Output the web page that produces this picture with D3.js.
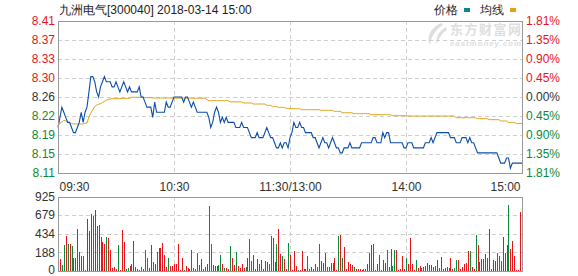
<!DOCTYPE html>
<html><head><meta charset="utf-8">
<script src="https://cdn.jsdelivr.net/npm/d3@7"></script>
<style>body{margin:0;background:#fff}svg{display:block;font-family:"Liberation Sans",Arial,sans-serif}</style>
</head><body>
<svg id="c" width="578" height="276"></svg>
<script>
const title = "九洲电气[300040] 2018-03-14 15:00";
const legendNames = ["价格", "均线"];
const prevClose = 8.26;
const priceSpan = 0.1495;
const priceLabels = ["8.41","8.37","8.33","8.30","8.26","8.22","8.19","8.15","8.11"];
const pctLabels = ["1.81%","1.35%","0.90%","0.45%","0.00%","0.45%","0.90%","1.35%","1.81%"];
const timeTicks = [0, 60, 120, 180, 240];
const timeLabels = ["09:30","10:30","11:30/13:00","14:00","15:00"];
const volLabels = ["925","679","434","188","0"];
const volMax = 925;

const prices = [
8.20,8.22,8.24,8.23,8.22,8.21,8.21,8.20,8.19,8.19,
8.20,8.21,8.23,8.21,8.23,8.24,8.27,8.30,8.30,8.29,
8.27,8.26,8.28,8.29,8.30,8.29,8.29,8.29,8.28,8.28,
8.29,8.28,8.27,8.28,8.29,8.28,8.27,8.28,8.27,8.27,
8.27,8.27,8.28,8.26,8.26,8.25,8.24,8.24,8.24,8.22,
8.25,8.23,8.23,8.23,8.23,8.23,8.25,8.24,8.24,8.25,
8.26,8.26,8.26,8.26,8.26,8.25,8.26,8.26,8.25,8.24,
8.25,8.24,8.23,8.23,8.23,8.23,8.23,8.23,8.22,8.20,
8.21,8.23,8.24,8.23,8.21,8.22,8.21,8.22,8.21,8.21,
8.21,8.21,8.20,8.20,8.20,8.21,8.20,8.20,8.20,8.19,
8.18,8.18,8.18,8.19,8.18,8.18,8.18,8.19,8.20,8.19,
8.18,8.18,8.17,8.16,8.16,8.17,8.16,8.17,8.17,8.16,
8.18,8.19,8.21,8.20,8.20,8.21,8.20,8.20,8.19,8.19,
8.19,8.19,8.18,8.18,8.17,8.16,8.17,8.18,8.17,8.17,
8.16,8.17,8.18,8.17,8.16,8.16,8.15,8.15,8.16,8.16,
8.16,8.17,8.16,8.16,8.16,8.16,8.16,8.17,8.17,8.17,
8.17,8.17,8.17,8.18,8.18,8.17,8.17,8.17,8.19,8.18,
8.19,8.19,8.17,8.17,8.17,8.17,8.17,8.17,8.17,8.16,
8.16,8.17,8.17,8.17,8.16,8.16,8.16,8.16,8.16,8.16,
8.17,8.17,8.17,8.18,8.17,8.18,8.19,8.19,8.19,8.19,
8.19,8.19,8.19,8.18,8.18,8.18,8.17,8.17,8.17,8.18,
8.18,8.18,8.17,8.18,8.17,8.17,8.16,8.15,8.15,8.15,
8.15,8.15,8.15,8.15,8.15,8.15,8.15,8.15,8.14,8.13,
8.13,8.13,8.14,8.14,8.12,8.13,8.13,8.13,8.13,8.13,
8.13];

const avgPrices = [
8.204,8.208,8.211,8.214,8.213,8.211,8.209,8.208,8.207,8.207,
8.207,8.207,8.207,8.207,8.208,8.209,8.221,8.2285,8.235,8.2416,
8.244,8.2456,8.247,8.249,8.2515,8.2534,8.2554,8.256,8.2567,8.2567,
8.2567,8.2567,8.2567,8.2574,8.2574,8.2574,8.2574,8.2574,8.2595,8.2595,
8.2595,8.2595,8.2595,8.2595,8.2595,8.2587,8.2587,8.2587,8.2587,8.258,
8.258,8.258,8.258,8.258,8.258,8.258,8.258,8.258,8.258,8.258,
8.258,8.2577,8.2577,8.2577,8.2577,8.2577,8.2577,8.2577,8.2577,8.2577,
8.2577,8.2577,8.2577,8.2577,8.2577,8.2577,8.2577,8.2548,8.2528,8.2528,
8.2528,8.2528,8.2528,8.2528,8.2528,8.2528,8.2528,8.2528,8.2528,8.2505,
8.2505,8.2505,8.2505,8.2505,8.2505,8.2505,8.2482,8.2482,8.2482,8.2482,
8.2482,8.2462,8.2462,8.2462,8.2462,8.2462,8.2462,8.2462,8.2436,8.2436,
8.2436,8.241,8.241,8.241,8.2397,8.2397,8.2397,8.2397,8.2377,8.2377,
8.237,8.237,8.237,8.237,8.237,8.237,8.235,8.235,8.235,8.235,
8.235,8.235,8.235,8.235,8.235,8.235,8.2338,8.2338,8.2338,8.2338,
8.2338,8.2338,8.2338,8.2318,8.2318,8.2318,8.2318,8.229,8.229,8.229,
8.229,8.229,8.229,8.2272,8.2272,8.2272,8.2272,8.2272,8.2272,8.2272,
8.2272,8.2272,8.2252,8.2252,8.2252,8.2252,8.2252,8.2252,8.2252,8.2252,
8.2252,8.2252,8.2252,8.2233,8.2233,8.2233,8.2233,8.2233,8.2233,8.2233,
8.2226,8.2226,8.2226,8.2226,8.2226,8.2226,8.2226,8.2226,8.2226,8.2226,
8.2226,8.2226,8.2226,8.2226,8.2226,8.2226,8.2226,8.2226,8.2226,8.2226,
8.2226,8.2226,8.2226,8.2226,8.2226,8.2226,8.2193,8.2193,8.2193,8.2193,
8.2193,8.2193,8.2193,8.2193,8.2193,8.2193,8.2193,8.2174,8.2174,8.2174,
8.2174,8.2174,8.2174,8.2154,8.2154,8.2154,8.2154,8.2154,8.2154,8.2128,
8.2128,8.2128,8.2128,8.21,8.21,8.21,8.21,8.208,8.208,8.208,
8.208];

const volumes = [0,
153,70,326,430,339,339,306,165,165,525,
240,190,190,17,648,500,710,686,760,562,
574,425,363,339,425,413,264,41,54,29,
326,17,512,363,29,41,66,91,376,54,
29,17,54,29,264,165,41,326,116,91,
240,289,289,351,202,54,165,66,66,91,
91,339,17,165,17,66,41,29,264,41,
29,227,78,153,29,54,91,809,339,78,
66,66,78,202,91,41,41,29,314,165,
78,240,66,41,91,41,54,165,400,128,
202,29,153,91,140,29,128,116,91,438,
413,116,339,525,215,190,153,29,351,
202,17,252,66,17,17,252,29,29,190,
29,54,29,91,54,339,128,103,227,54,
54,103,103,165,17,438,450,165,301,29,
116,91,78,54,29,29,29,17,29,29,
91,227,326,339,17,91,202,17,140,103,
264,54,277,66,264,264,17,29,190,29,
165,91,413,91,17,140,41,66,41,54,
66,103,78,78,54,66,140,41,178,29,
41,54,41,165,29,41,140,140,29,54,
91,103,252,252,54,29,450,326,116,153,
153,215,165,525,29,140,128,227,190,128,
425,227,326,822,277,376,190,17,8,735];

const volDirs = ("r" +
"rggrgrgrrr" + "rrgrrrrgrg" + "rrrrgrrrrr" + "grrrggrgrr" + "rrgrggrrgr" + "grrrrrgrrr" +
"rrrrgrrggr" + "rgrrrgrggr" + "rrggrgrrgr" + "rgrrrrgrgg" + "rrrrrrrrgg" + "rrgrrgrrg" +
"rrrrgrrrgg" + "rrrgrgrrrg" + "grrrrgrgrr" + "rrrgrrrrrr" + "rrrrrrgrrr" + "grrggrrrrr" +
"grrrrgrrrr" + "rrrrgrrrrr" + "rrgrrggrrr" + "rrrgrrgrrr" + "rrrrrrrggr" + "rrrgrrrrrr").split("");

const RED = "#e8141c", GREEN = "#0b8a3a", DARK = "#333", BLUE = "#0a4ea8", GOLD = "#e2a213";
const L = 58, R = 522, T = 21, B = 173, VT = 196.5, VB = 271;
const svg = d3.select("#c");

const x = d3.scaleLinear().domain([0, 240]).range([L, R]);
const y = d3.scaleLinear().domain([prevClose - priceSpan, prevClose + priceSpan]).range([B, T]);
const yl = d3.scalePoint().domain(d3.range(priceLabels.length)).range([T, B]);
const yv = d3.scaleLinear().domain([0, volMax]).range([VB, VT]);
const yvl = d3.scalePoint().domain(d3.range(volLabels.length)).range([VT, VB]);
const mid = Math.floor(priceLabels.length / 2);
const lblColor = i => i < mid ? RED : (i === mid ? DARK : GREEN);

// watermark
const wm = svg.append("g").attr("fill", "#dedede");
wm.append("path").attr("d", "M441,23 C430,28 426,38 430,45 C431,37 435,30 443,25 Z");
wm.append("path").attr("d", "M446,27 C439,31 435,38 437,44 C439,38 442,33 447,30 Z");
wm.append("text").attr("x", 450).attr("y", 34).attr("font-size", 13).attr("font-weight", "bold")
  .attr("font-family", "Noto Sans CJK SC").attr("textLength", 71).text("东方财富网");
wm.append("text").attr("x", 450).attr("y", 46).attr("font-size", 8).attr("font-weight", "bold")
  .attr("font-style", "italic").attr("textLength", 71).text("eastmoney.com");

// grids
const grid = svg.append("g").attr("stroke", "#cfcfcf").attr("stroke-dasharray", "4,3").attr("shape-rendering", "crispEdges");
grid.selectAll(".hp").data(yl.domain().slice(1, -1)).join("line")
  .attr("x1", L).attr("x2", R).attr("y1", d => Math.round(yl(d)) + 0.5).attr("y2", d => Math.round(yl(d)) + 0.5);
grid.selectAll(".hv").data(yvl.domain().slice(1, -1)).join("line").attr("class", "hv")
  .attr("x1", L).attr("x2", R).attr("y1", d => Math.round(yvl(d)) + 0.5).attr("y2", d => Math.round(yvl(d)) + 0.5);
grid.selectAll(".vt").data(timeTicks.slice(1, -1)).join("line").attr("class", "vt")
  .attr("x1", d => Math.round(x(d)) + 0.5).attr("x2", d => Math.round(x(d)) + 0.5).attr("y1", T).attr("y2", B);
grid.selectAll(".vb").data(timeTicks.slice(1, -1)).join("line").attr("class", "vb")
  .attr("x1", d => Math.round(x(d)) + 0.5).attr("x2", d => Math.round(x(d)) + 0.5).attr("y1", VT).attr("y2", VB);

// volume bars
svg.append("g").attr("shape-rendering", "crispEdges").selectAll("rect").data(volumes).join("rect")
  .attr("x", (d, i) => Math.round(x(i)))
  .attr("width", 1)
  .attr("y", d => yv(d))
  .attr("height", d => VB - yv(d))
  .attr("fill", (d, i) => volDirs[i] === "g" ? GREEN : RED);

// lines
svg.append("path").datum(avgPrices).attr("fill", "none").attr("stroke", GOLD).attr("stroke-width", 1)
  .attr("d", d3.line().x((d, i) => x(i)).y(d => y(d)));
svg.append("path").datum(prices).attr("fill", "none").attr("stroke", BLUE).attr("stroke-width", 1.1)
  .attr("d", d3.line().x((d, i) => x(i)).y(d => y(d)));

// frames
svg.append("g").attr("fill", "none").attr("stroke", "#999").attr("shape-rendering", "crispEdges")
  .selectAll("rect").data([[T, B], [VT, VB]]).join("rect")
  .attr("x", L + 0.5).attr("y", d => Math.round(d[0]) + 0.5).attr("width", R - L).attr("height", d => Math.round(d[1]) - Math.round(d[0]));

// axes
const styleAxis = g => { g.select(".domain").remove(); g.selectAll("text").attr("font-size", 12).attr("font-family", "Liberation Sans, Arial, sans-serif"); };
const ax1 = svg.append("g").attr("transform", `translate(${L},0)`)
  .call(d3.axisLeft(yl).tickSize(0).tickPadding(3).tickFormat(i => priceLabels[i])).call(styleAxis);
ax1.selectAll("text").attr("fill", i => lblColor(i));
const ax2 = svg.append("g").attr("transform", `translate(${R},0)`)
  .call(d3.axisRight(yl).tickSize(0).tickPadding(4).tickFormat(i => pctLabels[i])).call(styleAxis);
ax2.selectAll("text").attr("fill", i => lblColor(i));
const ax3 = svg.append("g").attr("transform", `translate(0,${B})`)
  .call(d3.axisBottom(x).tickValues(timeTicks).tickSize(0).tickPadding(9).tickFormat((d, i) => timeLabels[i])).call(styleAxis);
ax3.selectAll("text").attr("fill", DARK)
  .attr("text-anchor", (d, i) => i === 0 ? "start" : (i === timeTicks.length - 1 ? "end" : "middle"))
  .attr("dx", (d, i) => i === 0 ? 1 : (i === timeTicks.length - 1 ? -2 : 0));
const ax4 = svg.append("g").attr("transform", `translate(${L},0)`)
  .call(d3.axisLeft(yvl).tickSize(0).tickPadding(3).tickFormat(i => volLabels[i])).call(styleAxis);
ax4.selectAll("text").attr("fill", DARK).attr("dy", (d, i) => i === volLabels.length - 1 ? "0.22em" : "0.32em");

// title & legend
svg.append("text").attr("x", 59).attr("y", 14).attr("font-size", 12).attr("fill", "#222").text(title);
const lg = svg.append("g").attr("font-size", 12).attr("fill", "#222");
lg.append("text").attr("x", 434).attr("y", 14).text(legendNames[0]);
lg.append("rect").attr("x", 464).attr("y", 8).attr("width", 6).attr("height", 4).attr("fill", "#0a8a80");
lg.append("text").attr("x", 480).attr("y", 14).text(legendNames[1]);
lg.append("rect").attr("x", 510).attr("y", 8).attr("width", 6).attr("height", 4).attr("fill", GOLD);
</script>
</body></html>
